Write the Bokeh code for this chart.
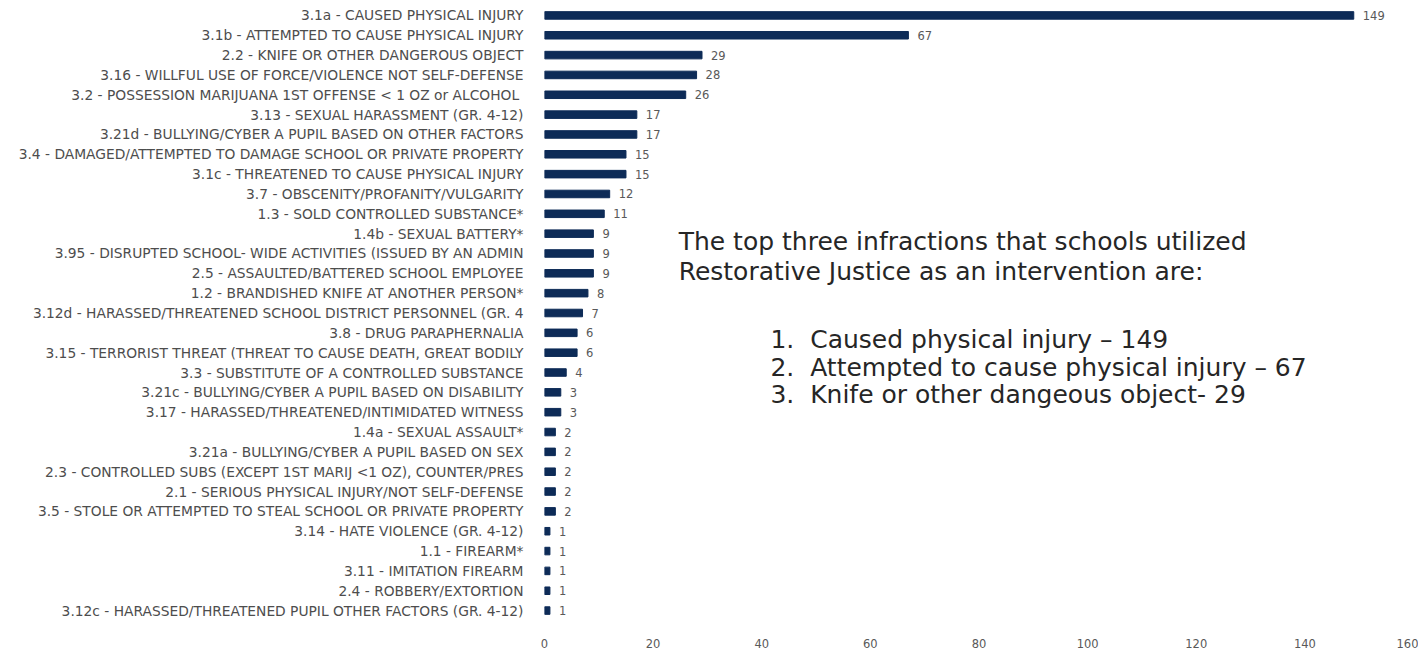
from bokeh.plotting import figure
from bokeh.models import FactorRange, Range1d, Label, ColumnDataSource, FixedTicker
from bokeh.core.properties import value
from bokeh.embed import file_html
from bokeh.resources import INLINE

categories = [
    "3.1a - CAUSED PHYSICAL INJURY",
    "3.1b - ATTEMPTED TO CAUSE PHYSICAL INJURY",
    "2.2 - KNIFE OR OTHER DANGEROUS OBJECT",
    "3.16 - WILLFUL USE OF FORCE/VIOLENCE NOT SELF-DEFENSE",
    "3.2 -  POSSESSION MARIJUANA 1ST OFFENSE < 1 OZ or ALCOHOL",
    "3.13 - SEXUAL HARASSMENT (GR. 4-12)",
    "3.21d - BULLYING/CYBER A PUPIL BASED ON OTHER FACTORS",
    "3.4 - DAMAGED/ATTEMPTED TO DAMAGE SCHOOL OR PRIVATE PROPERTY",
    "3.1c - THREATENED TO CAUSE PHYSICAL INJURY",
    "3.7 - OBSCENITY/PROFANITY/VULGARITY",
    "1.3 - SOLD CONTROLLED SUBSTANCE*",
    "1.4b - SEXUAL BATTERY*",
    "3.95 - DISRUPTED SCHOOL- WIDE ACTIVITIES (ISSUED BY AN ADMIN",
    "2.5 - ASSAULTED/BATTERED SCHOOL EMPLOYEE",
    "1.2 - BRANDISHED KNIFE AT ANOTHER PERSON*",
    "3.12d - HARASSED/THREATENED SCHOOL DISTRICT PERSONNEL (GR. 4",
    "3.8 - DRUG PARAPHERNALIA",
    "3.15 - TERRORIST THREAT (THREAT TO CAUSE DEATH, GREAT BODILY",
    "3.3 - SUBSTITUTE OF A CONTROLLED SUBSTANCE",
    "3.21c - BULLYING/CYBER A PUPIL BASED ON DISABILITY",
    "3.17 - HARASSED/THREATENED/INTIMIDATED WITNESS",
    "1.4a - SEXUAL ASSAULT*",
    "3.21a - BULLYING/CYBER A PUPIL BASED ON SEX",
    "2.3 - CONTROLLED SUBS (EXCEPT 1ST MARIJ <1 OZ), COUNTER/PRES",
    "2.1 - SERIOUS PHYSICAL INJURY/NOT SELF-DEFENSE",
    "3.5 - STOLE OR ATTEMPTED TO STEAL SCHOOL OR PRIVATE PROPERTY",
    "3.14 - HATE VIOLENCE (GR. 4-12)",
    "1.1 - FIREARM*",
    "3.11 - IMITATION FIREARM",
    "2.4 - ROBBERY/EXTORTION",
    "3.12c - HARASSED/THREATENED PUPIL OTHER FACTORS (GR. 4-12)",
]
counts = [149, 67, 29, 28, 26, 17, 17, 15, 15, 12, 11, 9, 9, 9, 8, 7, 6, 6, 4,
          3, 3, 2, 2, 2, 2, 2, 1, 1, 1, 1, 1]
x_ticks = [0, 20, 40, 60, 80, 100, 120, 140, 160]

intro_lines = [
    "The top three infractions that schools utilized",
    "Restorative Justice as an intervention are:",
]
top_lines = [
    "1.\u00a0\u00a0Caused physical injury \u2013 149",
    "2.\u00a0\u00a0Attempted to cause physical injury \u2013 67",
    "3.\u00a0\u00a0Knife or other dangeous object- 29",
]

BAR = "#0d2b57"
GRAY = "#595959"
FONT = "DejaVu Sans"

src = ColumnDataSource(dict(cat=categories, n=counts, lab=[str(c) for c in counts]))

p = figure(width=1418, height=650, output_backend="svg", toolbar_location=None,
           y_range=FactorRange(factors=list(reversed(categories))),
           x_range=Range1d(0, 160),
           min_border_left=544, min_border_right=5, min_border_top=5, min_border_bottom=25)

p.hbar(y="cat", right="n", left=0, height=0.38, source=src, color=BAR)
p.text(x="n", y="cat", text="lab", source=src, x_offset=9,
       text_font=value(FONT), text_font_size="11.5px", text_color=GRAY,
       text_baseline="middle", text_align="left")

p.outline_line_color = None
p.grid.grid_line_color = None
p.background_fill_color = "white"
p.border_fill_color = "white"

p.xaxis.ticker = FixedTicker(ticks=x_ticks)
p.xaxis.axis_line_color = None
p.xaxis.major_tick_line_color = None
p.xaxis.minor_tick_line_color = None
p.xaxis.major_label_standoff = 12
p.xaxis.major_label_text_font = FONT
p.xaxis.major_label_text_font_size = "11.5px"
p.xaxis.major_label_text_color = GRAY

p.yaxis.axis_line_color = None
p.yaxis.major_tick_line_color = None
p.yaxis.minor_tick_line_color = None
p.yaxis.major_label_standoff = 15
p.yaxis.major_label_text_font = FONT
p.yaxis.major_label_text_font_size = "13.8px"
p.yaxis.major_label_text_color = "#4d4d4d"

# annotation text, positioned in data coordinates (factor synthetic coords)
ys_intro = [19.1, 17.6]
for t, yy in zip(intro_lines, ys_intro):
    p.add_layout(Label(x=24.7, y=yy, text=t, text_font=FONT, text_font_size="25px",
                       text_color="#262626", text_baseline="middle"))
ys_top = [14.15, 12.75, 11.4]
for t, yy in zip(top_lines, ys_top):
    p.add_layout(Label(x=41.6, y=yy, text=t, text_font=FONT, text_font_size="25px",
                       text_color="#262626", text_baseline="middle"))

open("out.html", "w").write(file_html(p, INLINE))
